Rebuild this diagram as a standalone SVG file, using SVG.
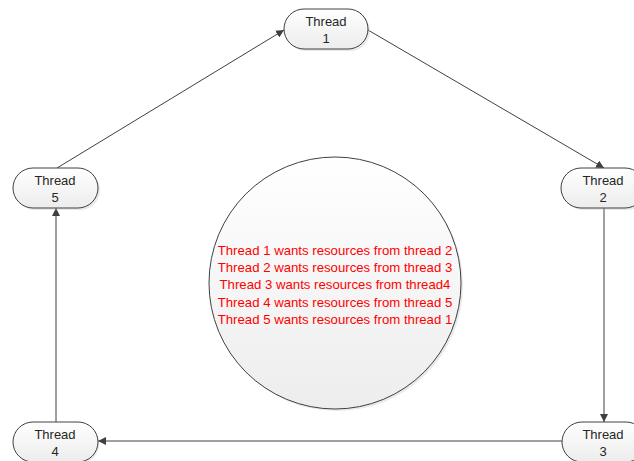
<svg xmlns="http://www.w3.org/2000/svg" width="634" height="461" viewBox="0 0 634 461">
<style>
.node rect{fill:url(#g);stroke:#404040;stroke-width:1}
.shadow{fill:#c8c8c8;opacity:0.4}
.node rect.shadow{fill:#c8c8c8;stroke:none}
.lbl{font-family:"Liberation Sans",Arial,sans-serif;font-size:13px;fill:#262626;text-anchor:middle}
.conn line{stroke:#404040;stroke-width:1;marker-end:url(#ah)}
.red{font-family:"Liberation Sans",Arial,sans-serif;font-size:13.2px;fill:#ff0000;text-anchor:middle}
</style>
<defs>
<linearGradient id="g" x1="0" y1="0" x2="0" y2="1">
<stop offset="0" stop-color="#ffffff"/>
<stop offset="1" stop-color="#ececec"/>
</linearGradient>
<linearGradient id="gc" x1="0" y1="0" x2="0" y2="1">
<stop offset="0" stop-color="#ffffff"/>
<stop offset="1" stop-color="#ededed"/>
</linearGradient>
<marker id="ah" viewBox="0 0 10 10" refX="10" refY="5" markerWidth="8" markerHeight="8" markerUnits="userSpaceOnUse" orient="auto">
<path d="M0,0 L10,5 L0,10 z" fill="#404040"/>
</marker>
</defs>
<rect width="634" height="461" fill="#ffffff"/>
<g id="center">
<circle cx="337" cy="285" r="126" class="shadow"/>
<circle cx="335" cy="283" r="126" fill="url(#gc)" stroke="#404040" stroke-width="1"/>
<text class="red" x="335" y="255">Thread 1 wants resources from thread 2</text>
<text class="red" x="335" y="272">Thread 2 wants resources from thread 3</text>
<text class="red" x="335" y="289">Thread 3 wants resources from thread4</text>
<text class="red" x="335" y="307">Thread 4 wants resources from thread 5</text>
<text class="red" x="335" y="324">Thread 5 wants resources from thread 1</text>
</g>
<g class="conn" id="connectors">
<line x1="57" y1="168" x2="284" y2="30"/>
<line x1="368" y1="30" x2="604" y2="168"/>
<line x1="604" y1="208" x2="604" y2="422"/>
<line x1="562" y1="441" x2="98" y2="441"/>
<line x1="56" y1="422" x2="56" y2="208"/>
</g>
<g class="node" id="thread1">
<rect x="286" y="11" width="84" height="40" rx="20" class="shadow"/>
<rect x="284" y="9" width="84" height="40" rx="20"/>
<text class="lbl" x="326" y="26">Thread</text>
<text class="lbl" x="326" y="43">1</text>
</g>
<g class="node" id="thread2">
<rect x="563" y="170" width="84" height="40" rx="20" class="shadow"/>
<rect x="561" y="168" width="84" height="40" rx="20"/>
<text class="lbl" x="603" y="185">Thread</text>
<text class="lbl" x="603" y="202">2</text>
</g>
<g class="node" id="thread3">
<rect x="564" y="424" width="84" height="40" rx="20" class="shadow"/>
<rect x="562" y="422" width="84" height="40" rx="20"/>
<text class="lbl" x="603" y="439">Thread</text>
<text class="lbl" x="603" y="456">3</text>
</g>
<g class="node" id="thread4">
<rect x="15" y="424" width="84" height="40" rx="20" class="shadow"/>
<rect x="13" y="422" width="85" height="40" rx="20"/>
<text class="lbl" x="55" y="439">Thread</text>
<text class="lbl" x="55" y="456">4</text>
</g>
<g class="node" id="thread5">
<rect x="15" y="170" width="85" height="40" rx="20" class="shadow"/>
<rect x="13" y="168" width="85" height="40" rx="20"/>
<text class="lbl" x="55" y="185">Thread</text>
<text class="lbl" x="55" y="202">5</text>
</g>
</svg>
